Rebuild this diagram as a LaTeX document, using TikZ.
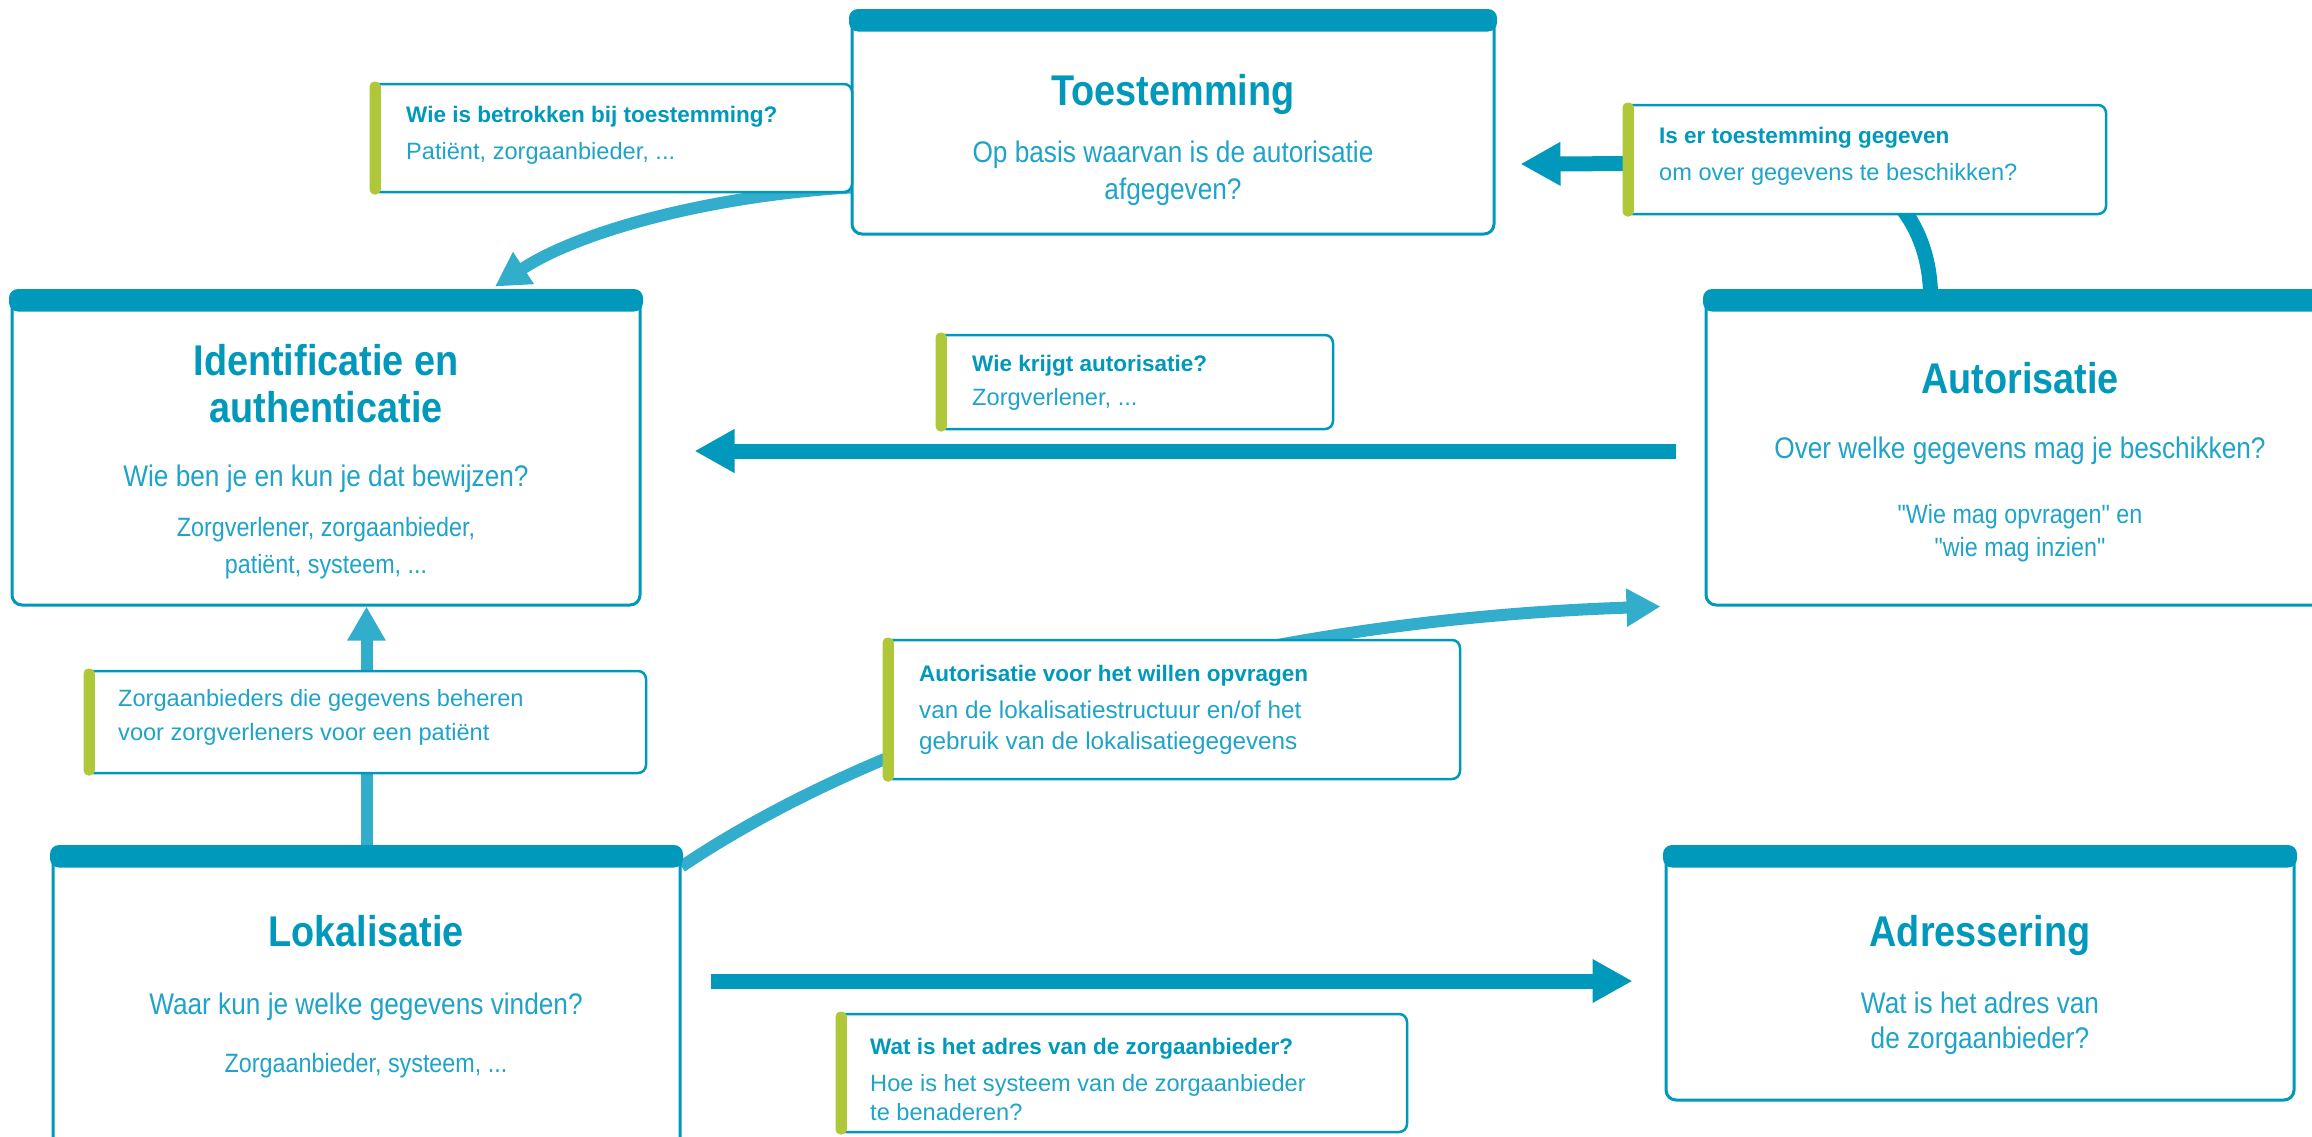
\documentclass[tikz,border=0pt]{standalone}
\usepackage{fontspec}
\setmainfont{Liberation Sans}
\newfontfamily\condfont{Liberation Sans}[FakeStretch=0.88]
\usetikzlibrary{arrows.meta,backgrounds,calc}
\definecolor{mainblue}{HTML}{0099BB}
\definecolor{lightblue}{HTML}{33ADCC}
\definecolor{txtblue}{HTML}{1FA3C9}
\definecolor{limegreen}{HTML}{AFC83A}
\tikzset{
  bigbox/.style={draw=mainblue, line width=3pt, rounded corners=10pt, fill=white, inner sep=0pt},
  callout/.style={draw=mainblue, line width=2.5pt, rounded corners=8pt, fill=white, inner sep=0pt},
  topbar/.style={fill=mainblue, rounded corners=9pt},
  greenbar/.style={fill=limegreen, rounded corners=5pt},
  boxtitle/.style={font=\condfont\bfseries\fontsize{43}{48}\selectfont, text=mainblue, anchor=base, inner sep=0pt},
  boxbody/.style={font=\condfont\fontsize{29.8}{36}\selectfont, text=txtblue, anchor=base, inner sep=0pt},
  boxsmall/.style={font=\condfont\fontsize{26.5}{32}\selectfont, text=txtblue, anchor=base, inner sep=0pt},
  ctitle/.style={font=\bfseries\fontsize{22.5}{27}\selectfont, text=mainblue, anchor=base west, inner sep=0pt},
  cbody/.style={font=\fontsize{23.6}{28}\selectfont, text=txtblue, anchor=base west, inner sep=0pt},
  darrow/.style={draw=mainblue, line width=15pt, -{Triangle[length=40pt,width=41pt]}},
  larrow/.style={draw=lightblue, line width=12pt, -{Triangle[length=34pt,width=36pt]}},
}
\begin{document}
\begin{tikzpicture}[x=1pt,y=-1pt]
\useasboundingbox (0,0) rectangle (2312,1136);
\clip (0,0) rectangle (2312,1136);
\begin{pgfonlayer}{background}
  \fill[white] (0,0) rectangle (2312,1136);
\end{pgfonlayer}

% main boxes
\node[bigbox, minimum width=642pt, minimum height=222pt] (toe) at (1173,123) {};
\node[bigbox, minimum width=628pt, minimum height=313pt] (ident) at (326,448.5) {};
\node[bigbox, minimum width=628pt, minimum height=313pt] (autor) at (2020,448.5) {};
\node[bigbox, minimum width=627pt, minimum height=310pt] (lok) at (366.5,1003) {};
\node[bigbox, minimum width=628pt, minimum height=252pt] (adr) at (1980,974) {};
\foreach \b in {toe,ident,autor,lok,adr}{
  \fill[topbar] ([xshift=-1.5pt,yshift=1.5pt]\b.north west) rectangle ([xshift=1.5pt,yshift=-21pt]\b.north east);
}

% callouts
\node[callout, minimum width=480pt, minimum height=108pt] (wib) at (612,138) {};
\node[callout, minimum width=481pt, minimum height=109pt] (iet) at (1865.5,159.5) {};
\node[callout, minimum width=395pt, minimum height=94pt] (wka) at (1135.5,382) {};
\node[callout, minimum width=560pt, minimum height=102pt] (zdg) at (366,722) {};
\node[callout, minimum width=575pt, minimum height=139pt] (avh) at (1172.5,709.5) {};
\node[callout, minimum width=569pt, minimum height=118pt] (wih) at (1122.5,1073) {};
\foreach \c in {wib,iet,wka,zdg,avh,wih}{
  \fill[greenbar] ([xshift=-1.25pt,yshift=1.25pt]\c.north west) rectangle ([xshift=10pt,yshift=-1.25pt]\c.south west);
}

% box texts
\node[boxtitle] (toeT) at (1173,105) {Toestemming};
\node[boxbody] (toeB1) at (1173,162) {Op basis waarvan is de autorisatie};
\node[boxbody] (toeB2) at (1173,199) {afgegeven?};

\node[boxtitle] (idT1) at (326,375) {Identificatie en};
\node[boxtitle] (idT2) at (326,422) {authenticatie};
\node[boxbody] (idB1) at (326,486) {Wie ben je en kun je dat bewijzen?};
\node[boxsmall] (idS1) at (326,536) {Zorgverlener, zorgaanbieder,};
\node[boxsmall] (idS2) at (326,573) {patiënt, systeem, ...};

\node[boxtitle] (auT) at (2020,393) {Autorisatie};
\node[boxbody] (auB1) at (2020,458) {Over welke gegevens mag je beschikken?};
\node[boxsmall] (auS1) at (2020,523) {"Wie mag opvragen" en};
\node[boxsmall] (auS2) at (2020,556) {"wie mag inzien"};

\node[boxtitle] (lokT) at (366,946) {Lokalisatie};
\node[boxbody] (lokB1) at (366,1014) {Waar kun je welke gegevens vinden?};
\node[boxsmall] (lokS1) at (366,1072) {Zorgaanbieder, systeem, ...};

\node[boxtitle] (adrT) at (1980,946) {Adressering};
\node[boxbody] (adrB1) at (1980,1013) {Wat is het adres van};
\node[boxbody] (adrB2) at (1980,1048) {de zorgaanbieder?};

% callout texts
\node[ctitle] (wibT) at (406,122) {Wie is betrokken bij toestemming?};
\node[cbody] (wibB) at (406,159) {Patiënt, zorgaanbieder, ...};

\node[ctitle] (ietT) at (1659,143) {Is er toestemming gegeven};
\node[cbody] (ietB) at (1659,180) {om over gegevens te beschikken?};

\node[ctitle] (wkaT) at (972,371) {Wie krijgt autorisatie?};
\node[cbody] (wkaB) at (972,405) {Zorgverlener, ...};

\node[cbody] (zdgB1) at (118,706) {Zorgaanbieders die gegevens beheren};
\node[cbody] (zdgB2) at (118,740) {voor zorgverleners voor een patiënt};

\node[ctitle] (avhT) at (919,681) {Autorisatie voor het willen opvragen};
\node[cbody, font=\fontsize{24.3}{28}\selectfont] (avhB1) at (919,718) {van de lokalisatiestructuur en/of het};
\node[cbody, font=\fontsize{24.3}{28}\selectfont] (avhB2) at (919,749) {gebruik van de lokalisatiegegevens};

\node[ctitle] (wihT) at (870,1054) {Wat is het adres van de zorgaanbieder?};
\node[cbody] (wihB1) at (870,1091) {Hoe is het systeem van de zorgaanbieder};
\node[cbody] (wihB2) at (870,1120) {te benaderen?};

% connectors
\begin{pgfonlayer}{background}
  \draw[darrow] ($(autor.north west)+(226,10)$) .. controls (1932,230) and (1890,163) .. (1800,163) -- ($(toe.east)+(25,41)$);
  \draw[larrow] ($(toe.south west)+(0,-48)$) .. controls (720,195) and (585,228) .. ($(ident.north)+(169,-4)$);
  \draw[darrow] ($(autor.west)+(-29,2.5)$) -- ($(ident.east)+(53,2.5)$);
  \draw[larrow] (lok.north) -- (lok.north |- ident.south);
  \draw[larrow] ($(lok.north east)+(0,20)$) .. controls (900,720) and (1250,620) .. ($(autor.south west)+(-44,0)$);
  \draw[darrow] ($(lok.east)+(29,-22)$) -- ($(adr.west)+(-32,7)$);
\end{pgfonlayer}
\end{tikzpicture}
\end{document}
